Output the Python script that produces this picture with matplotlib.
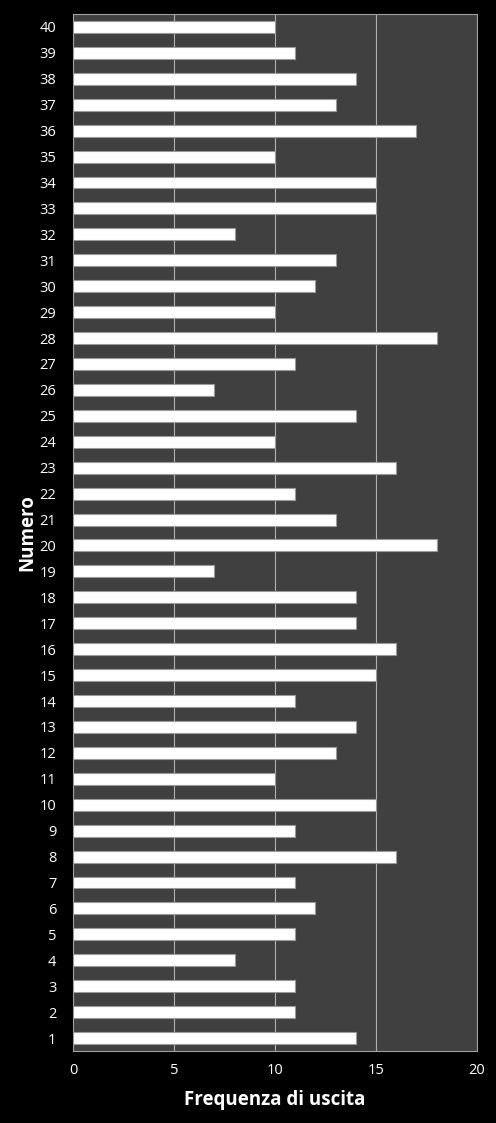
import matplotlib
matplotlib.use("Agg")
import matplotlib.pyplot as plt
import numpy as np

plt.rcParams['font.family'] = ['Open Sans', 'DejaVu Sans']

numeri = list(range(1, 41))
frequenze = [14, 11, 11, 8, 11, 12, 11, 16, 11, 15,
             10, 13, 14, 11, 15, 16, 14, 14, 7, 18,
             13, 11, 16, 10, 14, 7, 11, 18, 10, 12,
             13, 8, 15, 15, 10, 17, 13, 14, 11, 10]

fig = plt.figure(figsize=(4.96, 11.23), dpi=100, facecolor='black')
ax = fig.add_axes([73 / 496, 72 / 1123, 404 / 496, 1037 / 1123])
ax.set_facecolor('#404040')

y = np.arange(len(numeri))
ax.barh(y, frequenze, height=0.46, color='white', edgecolor='#9a9a9a',
        linewidth=0.8, zorder=3)

ax.set_xlim(0, 20)
ax.set_ylim(-0.5, len(numeri) - 0.5)
ax.set_xticks([0, 5, 10, 15, 20])
ax.set_yticks(y)
ax.set_yticklabels([str(n) for n in numeri])
ax.xaxis.grid(True, color='#b0b0b0', linewidth=0.8, zorder=0)
ax.tick_params(colors='white', labelsize=10.5, length=0)
ax.tick_params(axis='y', pad=12)
ax.tick_params(axis='x', pad=9)
for s in ax.spines.values():
    s.set_color('#a0a0a0')
    s.set_linewidth(0.8)

ax.set_xlabel('Frequenza di uscita', color='white', fontsize=13.5,
              fontweight='bold', labelpad=8)
ax.set_ylabel('Numero', color='white', fontsize=13.5, fontweight='bold')
ax.yaxis.set_label_coords(-0.089, 0.5)

fig.savefig('out.png', dpi=100, facecolor='black')
